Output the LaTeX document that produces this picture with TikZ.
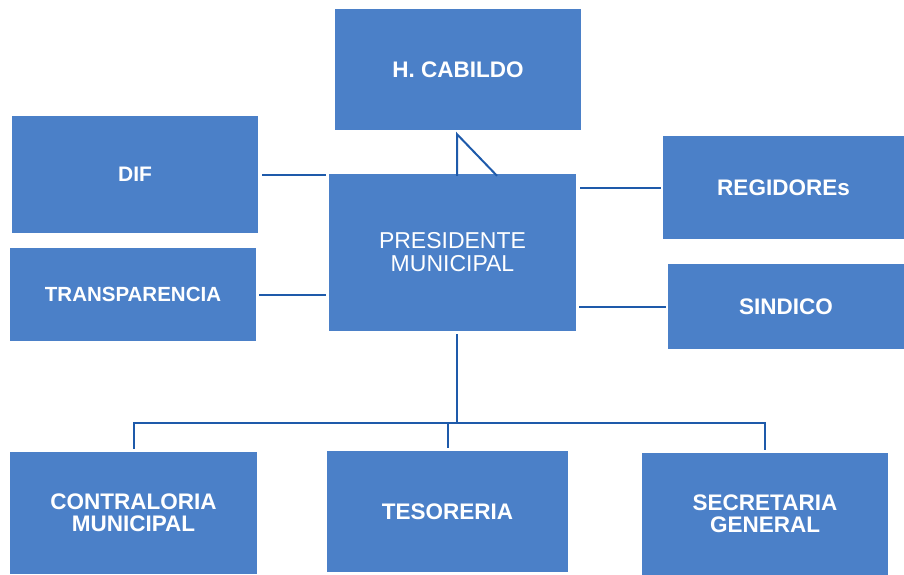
\documentclass[tikz,border=0pt]{standalone}
\usepackage{fontspec}
\setmainfont{Liberation Sans}
\definecolor{boxblue}{HTML}{4B80C8}
\definecolor{lineblue}{HTML}{1E5AAA}
\begin{document}
\begin{tikzpicture}[x=1pt,y=-1pt,
  orgbox/.style={draw=none,fill=boxblue,text=white,align=center,inner sep=0pt,
    font=\bfseries\fontsize{22.5}{22}\selectfont},
  conn/.style={draw=lineblue,line width=2pt}]
\useasboundingbox (0,0) rectangle (904,575);
\node[orgbox,minimum width=246pt,minimum height=121pt] (cab) at (458,69.5) {H. CABILDO};
\node[orgbox,minimum width=247pt,minimum height=157pt,font=\fontsize{23}{23}\selectfont] (pres) at (452.5,252.5) {PRESIDENTE\\MUNICIPAL};
\node[orgbox,minimum width=246pt,minimum height=117pt,font=\bfseries\fontsize{21}{22}\selectfont] (dif) at (135,174.5) {DIF};
\node[orgbox,minimum width=246pt,minimum height=93pt,font=\bfseries\fontsize{20.5}{22}\selectfont] (trans) at (133,294.5) {TRANSPARENCIA};
\node[orgbox,minimum width=241pt,minimum height=103pt] (reg) at (783.5,187.5) {REGIDOREs};
\node[orgbox,minimum width=236pt,minimum height=85pt] (sin) at (786,306.5) {SINDICO};
\node[orgbox,minimum width=247pt,minimum height=122pt] (con) at (133.5,513) {CONTRALORIA\\MUNICIPAL};
\node[orgbox,minimum width=241pt,minimum height=121pt] (tes) at (447.5,511.5) {TESORERIA};
\node[orgbox,minimum width=246pt,minimum height=122pt] (sec) at (765,514) {SECRETARIA\\GENERAL};
% side connectors
\draw[conn,shorten <=4pt,shorten >=3pt] (dif.east) -- (pres.west |- dif.east);
\draw[conn,shorten <=3pt,shorten >=3pt] (trans.east) -- (pres.west |- trans.east);
\draw[conn,shorten <=4pt,shorten >=2pt] (pres.east |- reg.west) -- (reg.west);
\draw[conn,shorten <=3pt,shorten >=2pt] (pres.east |- sin.west) -- (sin.west);
% cabildo
\coordinate (ctop) at ([xshift=-1pt,yshift=-4pt]cab.south);
\draw[conn,line join=miter] ([xshift=-1pt,yshift=-2pt]cab.south |- pres.north) -- (ctop) -- ([xshift=44.5pt,yshift=-2pt]pres.north);
% bottom tree
\coordinate (bar) at (457,423);
\draw[conn,shorten <=3pt] ([xshift=4.5pt]pres.south) -- (bar);
\draw[conn,shorten <=3pt,shorten >=3pt] (con.north) |- (bar) -| (sec.north);
\draw[conn,shorten <=3pt] (tes.north) -- (tes.north |- bar);
\end{tikzpicture}
\end{document}
